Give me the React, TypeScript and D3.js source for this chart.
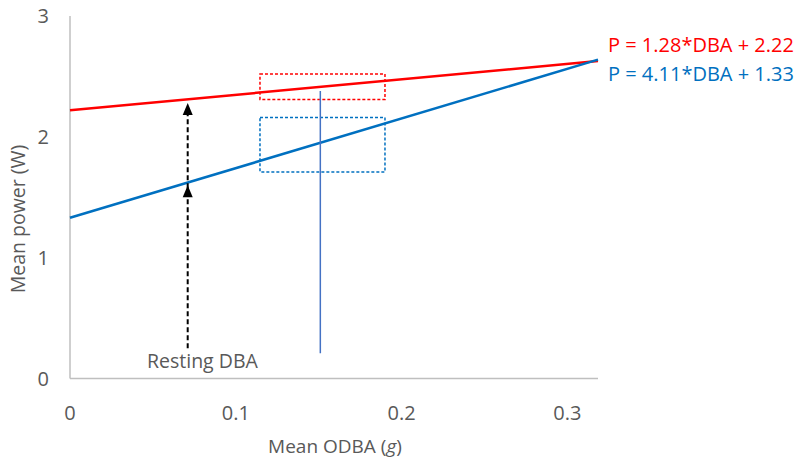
import React from "react";
import * as d3 from "d3";

const xTicks = [0, 0.1, 0.2, 0.3];
const yTicks = [0, 1, 2, 3];
const xMax = 0.3185;
const lines = [
  { name: "active", slope: 1.28, intercept: 2.22, color: "#FF0000", label: "P = 1.28*DBA + 2.22" },
  { name: "rest", slope: 4.11, intercept: 1.33, color: "#0070C0", label: "P = 4.11*DBA + 1.33" },
];
const boxes = [
  { x0: 0.1146, x1: 0.19, y0: 2.31, y1: 2.52, color: "#FF0000" },
  { x0: 0.1146, x1: 0.19, y0: 1.71, y1: 2.16, color: "#0070C0" },
];
const meanLine = { x: 0.151, y0: 0.21, y1: 2.38 };
const restingDBA = { x: 0.071, y0: 0.25, tipUpper: 2.28, tipLower: 1.6 };

const W = 800;
const H = 462;
const font = "'Open Sans', 'Liberation Sans', sans-serif";
const gray = "#595959";

export default function App() {
  const x = d3.scaleLinear().domain([0, xMax]).range([70, 598]);
  const y = d3.scaleLinear().domain([0, 3]).range([378.5, 16]);

  const arrowHead = (tipY: number, cx: number) => {
    const p = d3.path();
    p.moveTo(cx, tipY);
    p.lineTo(cx - 5, tipY + 12);
    p.lineTo(cx + 5, tipY + 12);
    p.closePath();
    return p.toString();
  };

  const ax = x(restingDBA.x);

  return (
    <svg width={W} height={H} style={{ display: "block", position: "absolute", left: 0, top: 0 }} fontFamily={font}>
      <rect width={W} height={H} fill="#fff" />
      {/* axes */}
      <line x1={x(0)} x2={x(0)} y1={y(3)} y2={y(0)} stroke="#BFBFBF" strokeWidth={1.5} />
      <line x1={x(0)} x2={x(xMax)} y1={y(0)} y2={y(0)} stroke="#BFBFBF" strokeWidth={1.5} />
      {yTicks.map((t) => (
        <text key={t} x={49} y={y(t)} dy="0.35em" textAnchor="end" fontSize={20} fill={gray}>
          {t}
        </text>
      ))}
      {xTicks.map((t) => (
        <text key={t} x={x(t)} y={413} dy="0.35em" textAnchor="middle" fontSize={20} fill={gray}>
          {t}
        </text>
      ))}
      <text x={335} y={446} dy="0.35em" textAnchor="middle" fontSize={19} fill={gray}>
        Mean ODBA (<tspan fontStyle="italic">g</tspan>)
      </text>
      <text
        transform={`translate(18,219) rotate(-90)`}
        dy="0.35em"
        textAnchor="middle"
        fontSize={19.5}
        fill={gray}
      >
        Mean power (W)
      </text>

      {/* boxes */}
      {boxes.map((b, i) => (
        <rect
          key={i}
          x={x(b.x0)}
          y={y(b.y1)}
          width={x(b.x1) - x(b.x0)}
          height={y(b.y0) - y(b.y1)}
          fill="none"
          stroke={b.color}
          strokeWidth={1.5}
          strokeDasharray="3,2"
        />
      ))}

      {/* regression lines */}
      {lines.map((l) => {
        const pts: [number, number][] = [
          [0, l.intercept],
          [xMax, l.intercept + l.slope * xMax],
        ];
        const g = d3
          .line<[number, number]>()
          .x((d) => x(d[0]))
          .y((d) => y(d[1]));
        return <path key={l.name} d={g(pts) || ""} fill="none" stroke={l.color} strokeWidth={2.5} />;
      })}

      {/* mean vertical line */}
      <line x1={x(meanLine.x)} x2={x(meanLine.x)} y1={y(meanLine.y1)} y2={y(meanLine.y0)} stroke="#4472C4" strokeWidth={1.5} />

      {/* resting DBA arrow */}
      <line
        x1={ax}
        x2={ax}
        y1={y(restingDBA.y0)}
        y2={y(restingDBA.tipUpper) + 10}
        stroke="#000"
        strokeWidth={2}
        strokeDasharray="5,3"
      />
      <path d={arrowHead(y(restingDBA.tipUpper), ax)} fill="#000" />
      <path d={arrowHead(y(restingDBA.tipLower), ax)} fill="#000" />
      <text x={147} y={361} dy="0.35em" fontSize={19.5} fill={gray}>
        Resting DBA
      </text>

      {/* equations */}
      {lines.map((l, i) => (
        <text key={l.name} x={608} y={45 + i * 29} dy="0.35em" fontSize={20} fill={l.color}>
          {l.label}
        </text>
      ))}
    </svg>
  );
}
